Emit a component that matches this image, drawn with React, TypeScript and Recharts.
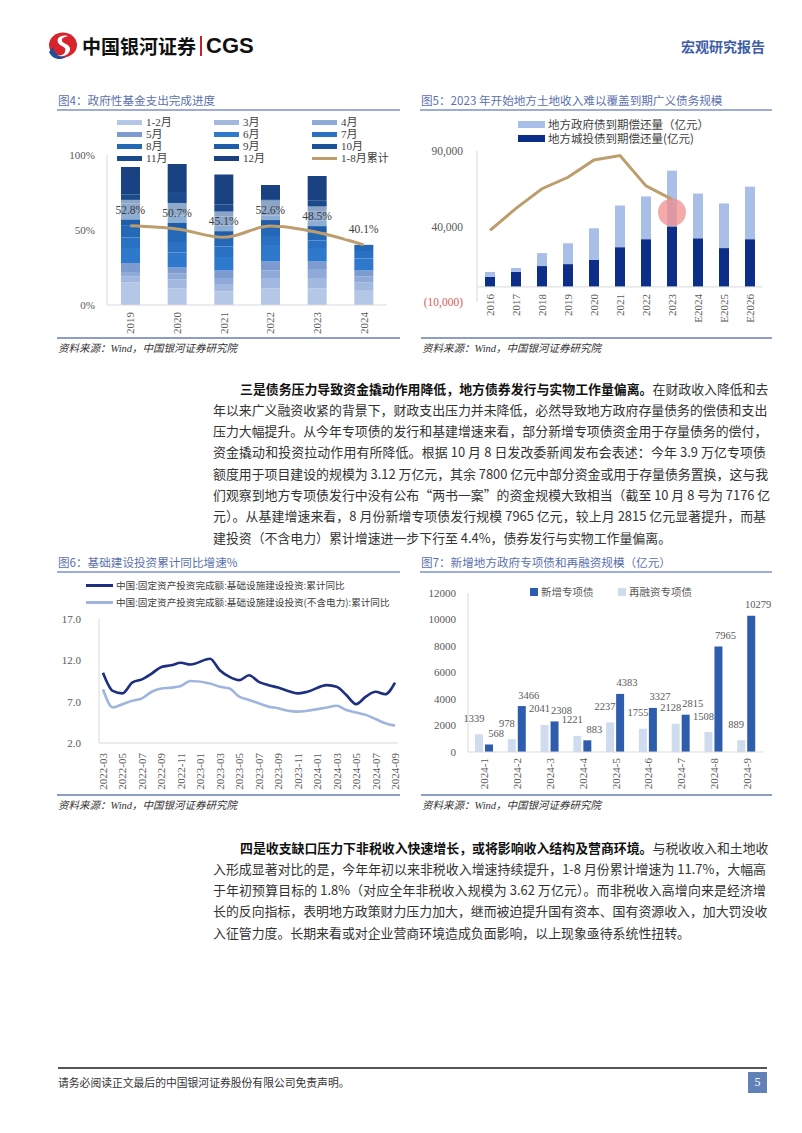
import React from 'react';
import {
  ComposedChart, BarChart, LineChart, Bar, Line, XAxis, YAxis,
  ReferenceLine, ReferenceDot, LabelList,
} from 'recharts';

const SERIF = '"Liberation Serif", "DejaVu Serif", "Noto Sans CJK SC", serif';
const CJK = '"Noto Sans CJK SC", "Liberation Serif", sans-serif';
const TICK = '#595959';
const AXIS = '#d9d9d9';

// ---------- Fig 4: 政府性基金支出完成进度 ----------
const fig4Years = ['2019', '2020', '2021', '2022', '2023', '2024'];
const fig4MonthLabels = ['1-2月', '3月', '4月', '5月', '6月', '7月', '8月', '9月', '10月', '11月', '12月'];
const fig4JanFeb = [15, 11, 9, 11, 11, 10];
const fig4Mar = [4, 6, 5, 7, 7, 5];
const fig4Apr = [3, 4, 4, 5, 6, 4];
const fig4May = [6, 4, 5, 6, 5, 4];
const fig4Jun = [10, 10, 9, 11, 9, 8];
const fig4Jul = [7, 7, 7, 6, 5, 5];
const fig4Aug = [7.8, 8.7, 6.1, 6.6, 5.5, 4.1];
const fig4Sep = [8, 9, 8, 7, 8, null];
const fig4Oct = [7, 7, 6, 5, 6, null];
const fig4Nov = [6, 8, 8, 6, 7, null];
const fig4Dec = [18.2, 19.3, 19.9, 9.4, 16.5, null];
const fig4Cum = [52.8, 50.7, 45.1, 52.6, 48.5, 40.1];
const fig4Ticks = [0, 50, 100];
const fig4Colors = ['#b4c7e7', '#a3b8e1', '#8fa9d9', '#7d9bd1', '#2f79cc', '#2a71c3', '#2468b8', '#1f5ca9', '#1c5299', '#1b4a8d', '#1a4283'];
const fig4Series = [fig4JanFeb, fig4Mar, fig4Apr, fig4May, fig4Jun, fig4Jul, fig4Aug, fig4Sep, fig4Oct, fig4Nov, fig4Dec];
const fig4Data = fig4Years.map((year, i) => {
  const row: any = { year, cum: fig4Cum[i] };
  fig4Series.forEach((s, k) => { row[`s${k}`] = s[i]; });
  return row;
});

// ---------- Fig 5: 到期债务规模 ----------
const fig5Years = ['2016', '2017', '2018', '2019', '2020', '2021', '2022', '2023', 'E2024', 'E2025', 'E2026'];
const fig5CityBond = [6600, 9900, 13800, 15100, 17800, 26300, 31600, 40100, 32200, 25700, 31600];
const fig5GovBond = [3300, 2600, 8600, 13800, 21000, 27600, 28300, 36900, 29600, 29600, 34800];
const fig5Land = [37500, 52000, 65000, 72600, 84100, 87000, 66900, 58000, null, null, null];
const fig5Ticks = [-10000, 40000, 90000];
const fig5Data = fig5Years.map((year, i) => ({ year, city: fig5CityBond[i], gov: fig5GovBond[i], land: fig5Land[i] }));

// ---------- Fig 6: 基础建设投资累计同比 ----------
const fig6Months = [
  '2022-03', '2022-04', '2022-05', '2022-06', '2022-07', '2022-08', '2022-09', '2022-10', '2022-11', '2022-12',
  '2023-01', '2023-02', '2023-03', '2023-04', '2023-05', '2023-06', '2023-07', '2023-08', '2023-09', '2023-10', '2023-11', '2023-12',
  '2024-01', '2024-02', '2024-03', '2024-04', '2024-05', '2024-06', '2024-07', '2024-08', '2024-09',
];
const fig6Infra = [10.5, 8.3, 8.0, 9.3, 9.7, 10.4, 11.2, 11.4, 11.7, 11.5, null, 12.2, 10.8, 10.0, 9.6, 10.2, 9.4, 9.0, 8.7, 8.3, 8.0, 8.2, null, 9.0, 8.8, 7.8, 6.7, 7.6, 8.2, 7.9, 9.3];
const fig6InfraExPower = [8.5, 6.3, 6.7, 7.1, 7.4, 8.2, 8.6, 8.7, 8.9, 9.5, null, 9.2, 8.8, 8.6, 7.6, 7.2, 6.8, 6.4, 6.2, 5.9, 5.8, 5.9, null, 6.3, 6.5, 6.0, 5.7, 5.4, 4.9, 4.4, 4.1];
const fig6Ticks = [2, 7, 12, 17];
const fig6Data = fig6Months.map((m, i) => ({ m, a: fig6Infra[i], b: fig6InfraExPower[i] }));

// ---------- Fig 7: 新增专项债和再融资 ----------
const fig7Months = ['2024-1', '2024-2', '2024-3', '2024-4', '2024-5', '2024-6', '2024-7', '2024-8', '2024-9'];
const fig7Refinance = [1339, 978, 2041, 1221, 2237, 1755, 2128, 1508, 889];
const fig7NewSpecial = [568, 3466, 2308, 883, 4383, 3327, 2815, 7965, 10279];
const fig7Ticks = [0, 2000, 4000, 6000, 8000, 10000, 12000];
const fig7Data = fig7Months.map((m, i) => ({ m, refi: fig7Refinance[i], neu: fig7NewSpecial[i] }));

// ---------- text ----------
const para1 = [
  '年以来广义融资收紧的背景下，财政支出压力并未降低，必然导致地方政府存量债务的偿债和支出',
  '压力大幅提升。从今年专项债的发行和基建增速来看，部分新增专项债资金用于存量债务的偿付，',
  '资金撬动和投资拉动作用有所降低。根据 10 月 8 日发改委新闻发布会表述：今年 3.9 万亿专项债',
  '额度用于项目建设的规模为 3.12 万亿元，其余 7800 亿元中部分资金或用于存量债务置换，这与我',
  '们观察到地方专项债发行中没有公布“两书一案”的资金规模大致相当（截至 10 月 8 号为 7176 亿',
  '元）。从基建增速来看，8 月份新增专项债发行规模 7965 亿元，较上月 2815 亿元显著提升，而基',
  '建投资（不含电力）累计增速进一步下行至 4.4%，债券发行与实物工作量偏离。',
];
const para2 = [
  '入形成显著对比的是，今年年初以来非税收入增速持续提升，1-8 月份累计增速为 11.7%，大幅高',
  '于年初预算目标的 1.8%（对应全年非税收入规模为 3.62 万亿元）。而非税收入高增向来是经济增',
  '长的反向指标，表明地方政策财力压力加大，继而被迫提升国有资本、国有资源收入，加大罚没收',
  '入征管力度。长期来看或对企业营商环境造成负面影响，以上现象亟待系统性扭转。',
];

const makeRotTick = (shift: number, size = 11) => (props: any) => {
  const { x, y, payload } = props;
  const yy = y + shift;
  return (
    <text x={x} y={yy} transform={`rotate(-90 ${x} ${yy})`} textAnchor="end" dominantBaseline="central"
      fontSize={size} fill={TICK} fontFamily={SERIF}>{payload.value}</text>
  );
};

const CumLabel = (props: any) => {
  const { x, y, value } = props;
  if (value == null) return null;
  const cy = y - 16;
  return (
    <g>
      <rect x={x - 19} y={cy - 10} width={38} height={20} fill="#ffffff" fillOpacity={0.5} />
      <text x={x} y={cy} textAnchor="middle" dominantBaseline="central" fontSize={11.5} fill="#404040" fontFamily={SERIF}>
        {`${Number(value).toFixed(1)}%`}
      </text>
    </g>
  );
};

const makeBarLabel = (dx: number, lift: number) => (props: any) => {
  const { x, y, width, value } = props;
  if (value == null) return null;
  return (
    <text x={x + width / 2 + dx} y={y - lift} textAnchor="middle" dominantBaseline="central"
      fontSize={10.5} fill={TICK} fontFamily={SERIF}>{value}</text>
  );
};

const Fig5YTick = (props: any) => {
  const { x, y, payload } = props;
  const v = payload.value as number;
  const s = Math.abs(v).toLocaleString('en-US');
  return (
    <text x={x} y={y} textAnchor="end" dominantBaseline="central" fontSize={11.5}
      fill={v < 0 ? '#e05a5a' : TICK} fontFamily={SERIF}>{v < 0 ? `(${s})` : s}</text>
  );
};

const abs = (left: number, top: number, extra: React.CSSProperties = {}): React.CSSProperties => ({
  position: 'absolute', left, top, ...extra,
});

const Title = ({ x, y, w, text }: { x: number; y: number; w: number; text: string }) => (
  <>
    <div style={abs(x, y - 9, { fontFamily: CJK, fontSize: 11.6, lineHeight: '18px', color: '#5b72ad', whiteSpace: 'nowrap' })}>{text}</div>
    <div style={abs(x - 1, y + 9, { width: w, height: 1.5, background: '#9fadd2' })} />
  </>
);

const Source = ({ x, y, w }: { x: number; y: number; w: number }) => (
  <>
    <div style={abs(x - 1, y - 12, { width: w, height: 1.5, background: '#8e9dc6' })} />
    <div style={abs(x, y - 8, { fontFamily: '"Liberation Serif", "Noto Sans CJK SC", serif', fontStyle: 'italic', fontSize: 10.5, lineHeight: '16px', color: '#333', whiteSpace: 'nowrap' })}>
      资料来源：Wind，中国银河证券研究院
    </div>
  </>
);

const BodyLine = ({ x, y, w, children, last }: any) => (
  <div style={abs(x, y - 10.5, {
    width: w, fontFamily: CJK, fontSize: 12.9, lineHeight: '21px', color: '#333', whiteSpace: 'nowrap',
    textAlign: 'justify', textAlignLast: last ? 'left' : 'justify', overflow: 'visible',
  })}>{children}</div>
);

const Fig4Legend = () => {
  const items = [...fig4MonthLabels, '1-8月累计'];
  const cols = [117, 214, 312];
  const rows = [122, 134, 146, 158];
  return (
    <>
      {items.map((label, i) => {
        const c = i % 3;
        const r = Math.floor(i / 3);
        const isLine = i === items.length - 1;
        return (
          <React.Fragment key={label}>
            <div style={abs(cols[c], rows[r] - (isLine ? 1.5 : 2.5), { width: 25, height: isLine ? 3 : 5, background: isLine ? '#bd9d6b' : fig4Colors[i] })} />
            <div style={abs(cols[c] + 29, rows[r] - 7, { fontFamily: SERIF, fontSize: 11, lineHeight: '14px', color: '#404040', whiteSpace: 'nowrap' })}>{label}</div>
          </React.Fragment>
        );
      })}
    </>
  );
};

const Logo = () => (
  <svg style={abs(46, 32)} width={32} height={28} viewBox="0 0 32 28">
    <ellipse cx="17" cy="13" rx="14" ry="12.5" fill="#d7232c" />
    <path d="M3 20 C 6 27, 14 29, 20 25 C 14 25, 8 22, 7 15 Z" fill="#1f4f9e" />
    <path d="M22 4 C 14 2, 9 7, 13 12 C 16 15, 21 15, 19 20 C 18 23, 14 24, 11 23 C 16 26, 24 23, 24 17 C 24 12, 17 12, 16 9 C 15 6, 19 5, 22 4 Z" fill="#ffffff" />
  </svg>
);

export default function App() {
  return (
    <div style={{ position: 'absolute', left: 0, top: 0, width: 802, height: 1133, background: '#fff', overflow: 'hidden' }}>
      {/* Header */}
      <Logo />
      <div style={abs(82, 34, { fontFamily: CJK, fontWeight: 700, fontSize: 19, lineHeight: '24px', color: '#111', whiteSpace: 'nowrap' })}>中国银河证券</div>
      <div style={abs(200, 36, { width: 1.5, height: 20, background: '#c8202a' })} />
      <div style={abs(206, 33, { fontFamily: '"Liberation Sans", Arial, sans-serif', fontWeight: 700, fontSize: 22, lineHeight: '26px', color: '#111' })}>CGS</div>
      <div style={abs(681, 36, { fontFamily: CJK, fontWeight: 700, fontSize: 14, lineHeight: '20px', color: '#3f5ea8', whiteSpace: 'nowrap' })}>宏观研究报告</div>

      {/* Fig 4 */}
      <Title x={58} y={100} w={343} text="图4：政府性基金支出完成进度" />
      <Fig4Legend />
      <div style={abs(50, 115)}>
        <ComposedChart width={350} height={230} data={fig4Data} margin={{ top: 40, right: 13, bottom: 5, left: 12 }}>
          <XAxis dataKey="year" axisLine={{ stroke: AXIS }} tickLine={false} tickSize={6} tickMargin={2} interval={0}
            height={35} tick={makeRotTick(-1, 11)} />
          <YAxis domain={[0, 100]} ticks={fig4Ticks} width={45} axisLine={{ stroke: AXIS }} tickLine={false} tickMargin={6}
            tickFormatter={(v: number) => `${v}%`} tick={{ fontSize: 11, fill: TICK, fontFamily: SERIF }} />
          {fig4Series.map((_, k) => (
            <Bar key={k} dataKey={`s${k}`} stackId="a" fill={fig4Colors[k]} barSize={19} isAnimationActive={false} />
          ))}
          <Line dataKey="cum" type="monotone" stroke="#bd9d6b" strokeWidth={3} dot={false} isAnimationActive={false}>
            <LabelList dataKey="cum" content={CumLabel} />
          </Line>
        </ComposedChart>
      </div>
      <Source x={58} y={349} w={343} />

      {/* Fig 5 */}
      <Title x={421} y={100} w={352} text="图5：2023 年开始地方土地收入难以覆盖到期广义债务规模" />
      <div style={abs(518, 121, { width: 27, height: 7, background: '#a9bfe8' })} />
      <div style={abs(548, 117, { fontFamily: CJK, fontSize: 11.5, lineHeight: '15px', color: '#404040', whiteSpace: 'nowrap' })}>地方政府债到期偿还量（亿元）</div>
      <div style={abs(518, 135, { width: 27, height: 7, background: '#0c2d88' })} />
      <div style={abs(548, 131, { fontFamily: CJK, fontSize: 11.5, lineHeight: '15px', color: '#404040', whiteSpace: 'nowrap' })}>地方城投债到期偿还量(亿元)</div>
      <div style={abs(415, 115)}>
        <ComposedChart width={380} height={230} data={fig5Data} margin={{ top: 36, right: 32, bottom: 13, left: 7 }}>
          <XAxis dataKey="year" axisLine={false} tickLine={false} tickSize={6} tickMargin={2} interval={0}
            height={30} tick={makeRotTick(-16, 11)} />
          <YAxis domain={[-10000, 90000]} ticks={fig5Ticks} width={55} axisLine={{ stroke: AXIS }} tickLine={false} tickMargin={8}
            tick={Fig5YTick} />
          <ReferenceLine y={0} stroke={AXIS} strokeWidth={1} />
          <Bar dataKey="city" stackId="b" fill="#0c2d88" barSize={10} isAnimationActive={false} />
          <Bar dataKey="gov" stackId="b" fill="#a9bfe8" barSize={10} isAnimationActive={false} />
          <Line dataKey="land" type="linear" stroke="#bd9d6b" strokeWidth={3} dot={false} isAnimationActive={false} />
          <ReferenceDot x="2023" y={49300} r={14} fill="#f28b8b" fillOpacity={0.72} stroke="none" />
        </ComposedChart>
      </div>
      <Source x={422} y={349} w={351} />

      {/* Paragraph 1 */}
      <BodyLine x={240} y={388} w={526}>
        <span style={{ fontWeight: 700, color: '#111' }}>三是债务压力导致资金撬动作用降低，地方债券发行与实物工作量偏离。</span>在财政收入降低和去
      </BodyLine>
      {para1.map((t, i) => (
        <BodyLine key={i} x={213} y={388 + 21.3 * (i + 1)} w={553} last={i === para1.length - 1}>{t}</BodyLine>
      ))}

      {/* Fig 6 */}
      <Title x={58} y={562} w={343} text="图6：基础建设投资累计同比增速%" />
      <div style={abs(86, 583.5, { width: 27, height: 3, background: '#1c2f80' })} />
      <div style={abs(116, 578, { fontFamily: CJK, fontSize: 9.6, lineHeight: '14px', color: '#404040', whiteSpace: 'nowrap' })}>中国:固定资产投资完成额:基础设施建设投资:累计同比</div>
      <div style={abs(86, 600.5, { width: 27, height: 3, background: '#9fb5de' })} />
      <div style={abs(116, 595, { fontFamily: CJK, fontSize: 9.6, lineHeight: '14px', color: '#404040', whiteSpace: 'nowrap' })}>中国:固定资产投资完成额:基础设施建设投资(不含电力):累计同比</div>
      <div style={abs(50, 610)}>
        <LineChart width={350} height={190} data={fig6Data} margin={{ top: 9, right: 2, bottom: 12, left: 9 }}>
          <XAxis dataKey="m" axisLine={{ stroke: AXIS }} tickLine={false} tickSize={6} tickMargin={2} interval={1}
            padding={{ left: 4, right: 3 }} height={45} tick={makeRotTick(2, 11)} />
          <YAxis domain={[2, 17]} ticks={fig6Ticks} width={40} axisLine={{ stroke: AXIS }} tickLine={false} tickMargin={12}
            tickFormatter={(v: number) => v.toFixed(1)} tick={{ fontSize: 11, fill: TICK, fontFamily: SERIF }} />
          <Line dataKey="b" type="monotone" connectNulls stroke="#9fb5de" strokeWidth={2.6} dot={false} isAnimationActive={false} />
          <Line dataKey="a" type="monotone" connectNulls stroke="#1c2f80" strokeWidth={2.6} dot={false} isAnimationActive={false} />
        </LineChart>
      </div>
      <Source x={58} y={806} w={343} />

      {/* Fig 7 */}
      <Title x={421} y={562} w={352} text="图7：新增地方政府专项债和再融资规模（亿元）" />
      <div style={abs(530, 588, { width: 8, height: 8, background: '#2f5dae' })} />
      <div style={abs(541, 585, { fontFamily: CJK, fontSize: 10.5, lineHeight: '14px', color: '#595959', whiteSpace: 'nowrap' })}>新增专项债</div>
      <div style={abs(618, 588, { width: 8, height: 8, background: '#cfdbef' })} />
      <div style={abs(629, 585, { fontFamily: CJK, fontSize: 10.5, lineHeight: '14px', color: '#595959', whiteSpace: 'nowrap' })}>再融资专项债</div>
      <div style={abs(415, 580)}>
        <BarChart width={380} height={215} data={fig7Data} margin={{ top: 13, right: 32, bottom: 5, left: 8 }} barGap={2}>
          <XAxis dataKey="m" axisLine={{ stroke: AXIS }} tickLine={false} tickSize={6} tickMargin={2} interval={0}
            height={38} tick={makeRotTick(-2, 11)} />
          <YAxis domain={[0, 12000]} ticks={fig7Ticks} width={45} axisLine={{ stroke: AXIS }} tickLine={false} tickMargin={6}
            tick={{ fontSize: 11, fill: TICK, fontFamily: SERIF }} />
          <Bar dataKey="refi" fill="#cfdbef" barSize={8} isAnimationActive={false}>
            <LabelList dataKey="refi" content={makeBarLabel(-5, 16)} />
          </Bar>
          <Bar dataKey="neu" fill="#2f5dae" barSize={8} isAnimationActive={false}>
            <LabelList dataKey="neu" content={makeBarLabel(7, 11)} />
          </Bar>
        </BarChart>
      </div>
      <Source x={422} y={806} w={351} />

      {/* Paragraph 2 */}
      <BodyLine x={240} y={847} w={526}>
        <span style={{ fontWeight: 700, color: '#111' }}>四是收支缺口压力下非税收入快速增长，或将影响收入结构及营商环境。</span>与税收收入和土地收
      </BodyLine>
      {para2.map((t, i) => (
        <BodyLine key={i} x={213} y={847 + 21.3 * (i + 1)} w={553} last={i === para2.length - 1}>{t}</BodyLine>
      ))}

      {/* Footer */}
      <div style={abs(58, 1067, { width: 709, height: 1.5, background: '#555' })} />
      <div style={abs(58, 1074, { fontFamily: CJK, fontSize: 10.8, lineHeight: '16px', color: '#333', whiteSpace: 'nowrap' })}>请务必阅读正文最后的中国银河证券股份有限公司免责声明。</div>
      <div style={abs(748, 1072, { width: 19, height: 21, background: '#6381b9', color: '#fff', fontFamily: SERIF, fontSize: 12, lineHeight: '21px', textAlign: 'center' })}>5</div>
    </div>
  );
}
